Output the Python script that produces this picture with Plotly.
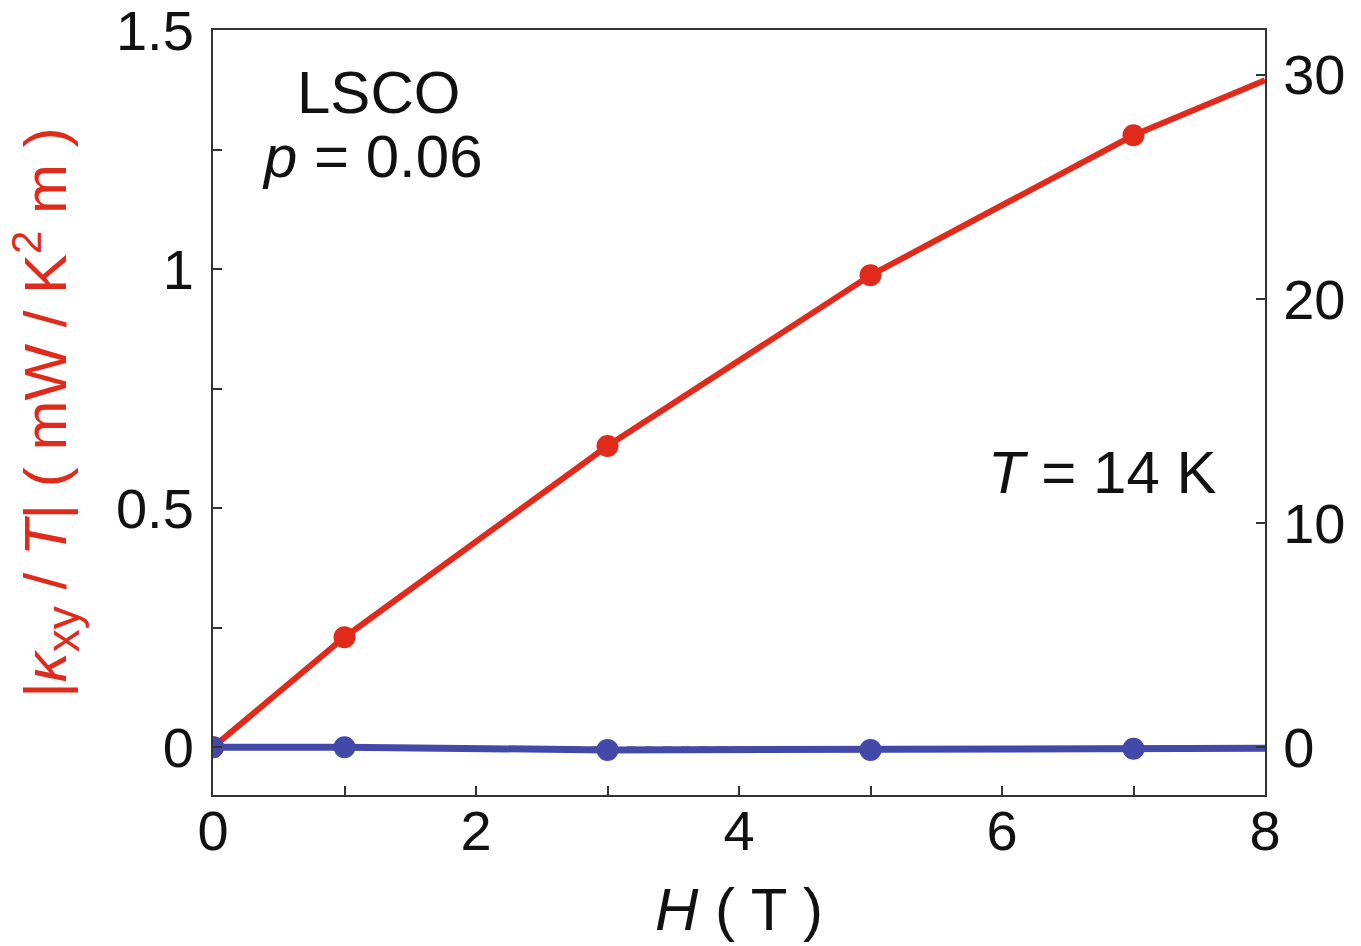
import plotly.graph_objects as go

# Field values (T)
field = [0, 1, 3, 5, 7, 8]

# |kappa_xy / T| (mW / K^2 m), left axis; last entry is the line's end at 8 T
kxy_over_T = [0.0, 0.23, 0.63, 0.987, 1.28, 1.395]
kxy_marker = [22, 22, 22, 22, 22, 0]

# second series on the right axis
right_series = [0.0, 0.0, -0.12, -0.12, -0.07, -0.05]
right_marker = [22, 22, 22, 22, 22, 0]

# zero reference on the right axis
zero_x = [0, 8]
zero_y = [0, 0]

left_ticks = [0, 0.5, 1, 1.5]
left_ticktext = ["0", "0.5", "1", "1.5"]
right_ticks = [0, 10, 20, 30]
x_ticks = [0, 2, 4, 6, 8]

RED = "#E02B1C"
BLUE = "#4249A8"
FONT = "Liberation Sans, Arial, sans-serif"
FS = 56
FS_TEXT = 60

fig = go.Figure()

fig.add_trace(go.Scatter(
    x=field, y=kxy_over_T, mode="lines+markers",
    line=dict(color=RED, width=6),
    marker=dict(color=RED, size=kxy_marker, opacity=1, line=dict(width=0)),
    yaxis="y", showlegend=False,
))

fig.add_trace(go.Scatter(
    x=zero_x, y=zero_y, mode="lines",
    line=dict(color="#444444", width=1.2, dash="dash"),
    yaxis="y2", showlegend=False,
))

fig.add_trace(go.Scatter(
    x=field, y=right_series, mode="lines+markers",
    line=dict(color=BLUE, width=7),
    marker=dict(color=BLUE, size=right_marker, opacity=1, line=dict(width=0)),
    yaxis="y2", showlegend=False,
))

axis_common = dict(
    showgrid=False, zeroline=False,
    showline=True, linecolor="#333333", linewidth=2,
    ticks="inside", ticklen=9, tickwidth=1.5, tickcolor="#333333",
    tickfont=dict(family=FONT, size=FS, color="#111111"),
    ticklabeloverflow="allow", automargin=False,
)

fig.update_layout(
    width=1361, height=946,
    margin=dict(l=213, r=96, t=30, b=151),
    paper_bgcolor="white", plot_bgcolor="white",
    font=dict(family=FONT, size=FS, color="#111111"),
    xaxis=dict(
        **axis_common,
        range=[0, 8], tickvals=x_ticks, mirror=True,
        ticklabelstandoff=-14,
        minor=dict(dtick=1, ticks="inside", ticklen=9, tickwidth=1.5, tickcolor="#333333"),
        title=dict(text="<i>H</i> ( T )", font=dict(family=FONT, size=FS_TEXT), standoff=27),
    ),
    yaxis=dict(
        **axis_common,
        range=[-0.1, 1.5001], tickvals=left_ticks, ticktext=left_ticktext,
        ticklabelstandoff=6,
        minor=dict(tickvals=[0.25, 0.75, 1.25], ticks="inside", ticklen=9,
                   tickwidth=1.5, tickcolor="#333333"),
        title=dict(
            text="|<i>κ</i><sub><span style=\"font-size:46px\">xy</span></sub> / <i>T</i>| "
                 "( mW / K<sup>2</sup> m )",
            font=dict(family=FONT, size=FS_TEXT, color=RED), standoff=30),
    ),
    yaxis2=dict(
        **axis_common,
        overlaying="y", side="right",
        range=[-0.1 * 64 / 3, 1.5001 * 64 / 3], tickvals=right_ticks,
        ticklabelstandoff=5,
    ),
    annotations=[
        dict(text="LSCO", x=1.255, y=1.369, xref="x", yref="y", showarrow=False,
             font=dict(family=FONT, size=FS_TEXT, color="#111111")),
        dict(text="<i>p</i> = 0.06", x=1.21, y=1.236, xref="x", yref="y", showarrow=False,
             font=dict(family=FONT, size=FS_TEXT, color="#111111")),
        dict(text="<i>T</i> = 14 K", x=6.76, y=0.575, xref="x", yref="y", showarrow=False,
             font=dict(family=FONT, size=FS_TEXT, color="#111111")),
    ],
)

fig.write_html("out.html")
